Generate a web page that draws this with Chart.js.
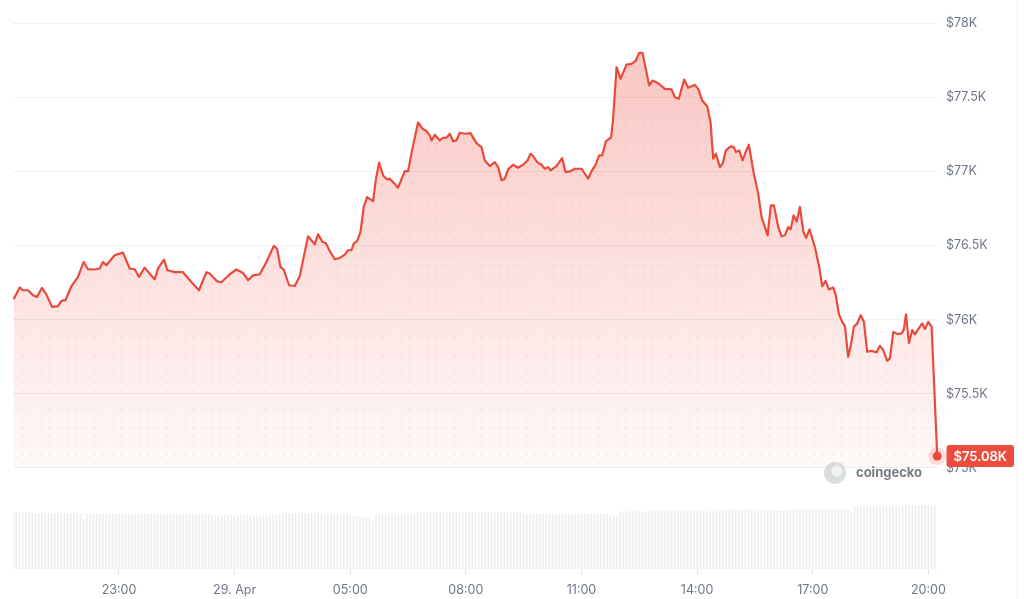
<!DOCTYPE html>
<html><head><meta charset="utf-8">
<script src="https://cdn.jsdelivr.net/npm/chart.js@4.4.1/dist/chart.umd.min.js"></script>
<style>html,body{margin:0;padding:0;background:#fff;overflow:hidden}
#wrap{position:relative;width:1024px;height:599px}</style>
</head><body><div id="wrap"><canvas id="c" width="1024" height="599"></canvas></div>
<script>
// hours on the 28 Apr clock (24 = 00:00 on 29 Apr)
const priceTimes = [20.267,20.423,20.508,20.638,20.768,20.872,21.002,21.116,21.261,21.417,21.505,21.609,21.765,21.936,22.084,22.195,22.369,22.499,22.585,22.673,22.888,23.104,23.278,23.407,23.519,23.667,23.779,23.927,24.012,24.168,24.256,24.446,24.661,24.879,25.076,25.268,25.354,25.543,25.658,25.873,26.047,26.218,26.348,26.478,26.652,26.826,27.015,27.101,27.189,27.275,27.412,27.560,27.690,27.905,28.079,28.165,28.279,28.365,28.468,28.598,28.728,28.858,28.943,29.032,29.091,29.177,29.265,29.351,29.437,29.592,29.662,29.748,29.852,29.956,30.026,30.137,30.241,30.415,30.501,30.615,30.760,30.874,30.960,31.064,31.108,31.194,31.323,31.409,31.497,31.583,31.669,31.757,31.842,31.972,32.120,32.276,32.406,32.491,32.621,32.751,32.837,32.925,33.010,33.096,33.226,33.356,33.485,33.600,33.677,33.745,33.849,33.963,34.049,34.134,34.197,34.352,34.498,34.586,34.697,34.827,35.001,35.172,35.261,35.372,35.458,35.536,35.632,35.769,35.821,35.910,36.013,36.169,36.299,36.410,36.496,36.584,36.756,36.844,36.989,37.163,37.337,37.423,37.526,37.664,37.768,37.942,38.027,38.131,38.261,38.349,38.417,38.487,38.591,38.661,38.746,38.868,38.954,39.006,39.091,39.180,39.258,39.343,39.455,39.585,39.673,39.829,39.914,39.992,40.104,40.192,40.278,40.363,40.426,40.503,40.581,40.667,40.758,40.830,40.916,41.056,41.168,41.246,41.334,41.420,41.531,41.593,41.679,41.765,41.835,41.920,41.990,42.068,42.154,42.243,42.328,42.413,42.528,42.658,42.743,42.829,42.933,43.003,43.089,43.192,43.306,43.366,43.418,43.496,43.581,43.652,43.737,43.841,43.911,43.997,44.085,44.230];
const priceValues = [76139,76218,76199,76199,76166,76154,76215,76170,76087,76092,76127,76132,76226,76289,76390,76341,76339,76346,76390,76368,76435,76453,76346,76341,76289,76352,76316,76273,76346,76406,76334,76321,76321,76255,76199,76321,76312,76260,76253,76307,76339,76316,76267,76300,76307,76390,76498,76480,76356,76339,76233,76228,76294,76563,76509,76577,76525,76518,76464,76408,76417,76440,76469,76469,76514,76530,76592,76761,76828,76801,76941,77060,76974,76947,76952,76922,76891,77003,77003,77158,77331,77289,77277,77244,77210,77248,77210,77228,77228,77255,77205,77210,77262,77255,77259,77192,77165,77075,77037,77064,77030,76941,76952,77015,77046,77026,77046,77075,77120,77104,77064,77046,77019,77030,77008,77037,77091,76996,77001,77019,77019,76952,77003,77048,77109,77109,77203,77230,77358,77704,77626,77722,77727,77749,77801,77801,77581,77614,77596,77558,77554,77502,77491,77621,77565,77585,77558,77480,77441,77333,77087,77120,77030,77053,77143,77170,77165,77131,77143,77075,77131,77181,77008,76851,76693,76570,76772,76772,76626,76563,76570,76626,76610,76705,76662,76761,76592,76553,76610,76491,76356,76226,76262,76204,76218,76172,76038,75986,75957,75750,75829,75952,75975,76031,75986,75784,75790,75780,75824,75795,75723,75739,75918,75903,75908,75935,76036,75844,75930,75901,75937,75975,75937,75986,75952,75080];
// 24h volume (billions USD), one bar every 5 minutes from 20:15
const volumeStart = 20.25;
const volumeStepHours = 5 / 60;
const volumeValues = [
33.4,33.5,33.4,33.3,33.5,33.4,33.3,32.6,32.5,32.5,32.4,32.6,
32.5,32.4,32.6,32.5,32.5,32.4,32.5,32.6,32.4,32.5,29.4,32.4,
32.4,32.3,32.4,32.5,32.4,32.4,32.3,32.4,32.5,32.4,32.3,32.4,
32.4,32.3,32.4,32.4,32.5,32.4,32.3,32.8,32.9,32.8,32.2,32.2,
32.2,32.1,32.2,32.3,32.2,32.2,32.1,32.2,32.3,32.2,32.2,32.1,
32.2,32.2,32.1,31.6,31.6,31.5,31.6,31.7,31.6,31.6,31.5,31.6,
31.6,31.6,31.7,31.6,31.5,31.6,31.6,31.7,31.6,31.6,31.5,32.5,
32.5,32.6,32.5,32.4,32.5,32.6,32.5,32.5,32.4,32.5,32.6,32.5,
32.2,32.3,32.2,32.2,32.1,32.2,32.3,32.2,32.2,31.2,31.3,31.2,
30.4,30.5,30.4,30.4,28.0,31.6,31.6,31.7,31.6,31.6,31.5,31.6,
31.6,31.7,31.6,31.6,32.5,32.6,33.4,33.5,33.4,33.4,33.3,33.4,
33.4,33.5,33.4,33.3,33.4,33.5,33.4,33.4,33.3,33.4,33.5,33.4,
33.4,33.3,33.4,33.5,33.4,33.4,33.3,33.4,33.4,33.5,33.4,33.3,
33.4,33.4,33.3,33.4,32.5,32.6,32.5,32.4,32.5,32.5,32.4,32.4,
32.4,32.3,32.4,32.5,32.4,32.4,32.3,32.4,32.4,32.5,32.4,32.4,
32.4,32.3,32.4,32.4,32.5,32.4,31.6,31.6,31.0,34.0,34.1,34.0,
34.0,34.0,34.1,34.0,33.9,34.0,34.0,34.4,34.5,34.4,34.4,34.3,
34.4,34.5,34.4,34.4,34.3,34.4,34.5,34.4,34.4,34.4,34.0,34.0,
34.0,34.1,34.0,34.9,34.9,35.0,34.9,34.8,34.9,34.9,35.0,34.9,
34.9,34.9,34.8,34.8,34.7,34.8,34.8,34.9,34.8,34.8,34.7,34.8,
34.8,34.8,34.9,34.8,34.8,35.5,35.5,35.6,35.5,35.4,35.5,35.5,
35.5,35.6,35.5,35.5,35.4,35.5,35.6,35.5,35.5,34.0,36.7,36.7,
36.7,36.8,36.7,36.7,36.6,36.7,36.8,36.7,36.7,36.8,36.7,36.8,
36.8,37.4,37.4,37.5,37.6,37.6,37.7,37.8,37.8,37.9,38.0,38.1];
const tickHours = [23, 26, 29, 32, 35, 38, 41, 44];
const tickLabels = ['23:00', '29. Apr', '05:00', '08:00', '11:00', '14:00', '17:00', '20:00'];
const priceTicks = [75000, 75500, 76000, 76500, 77000, 77500, 78000];
const priceFloor = 75000;

const RED = '#ea4a3c';
const GREY = '#6f7787';
Chart.defaults.font.family = 'Inter, "Noto Sans", sans-serif';

const priceData = priceTimes.map((t, i) => ({x: t, y: priceValues[i]}));
const volumeData = volumeValues.map((v, i) => ({x: volumeStart + i * volumeStepHours, y: v}));

const pc = document.createElement('canvas'); pc.width = 9; pc.height = 9;
const pctx = pc.getContext('2d');
pctx.fillStyle = 'rgba(236,74,61,0.11)';
pctx.beginPath(); pctx.arc(4.5, 4.5, 1.1, 0, Math.PI * 2); pctx.fill();
const canvas = document.getElementById('c');
const dotPattern = canvas.getContext('2d').createPattern(pc, 'repeat');

function fillGradient(ctx) {
  const chart = ctx.chart;
  if (!chart.chartArea) return 'rgba(236,74,61,0.12)';
  const y = chart.scales.y;
  const g = chart.ctx.createLinearGradient(0, y.getPixelForValue(77800), 0, y.getPixelForValue(priceFloor));
  g.addColorStop(0, 'rgba(236,74,61,0.31)');
  g.addColorStop(1, 'rgba(236,74,61,0.03)');
  return g;
}

const overlay = {
  id: 'overlay',
  afterDraw(chart) {
    const c = chart.ctx;
    const meta = chart.getDatasetMeta(0);
    const last = meta.data[meta.data.length - 1];
    const area = chart.chartArea;
    c.save();
    // end point with halo
    c.fillStyle = 'rgba(236,74,61,0.18)';
    c.beginPath(); c.arc(last.x, last.y, 9, 0, Math.PI * 2); c.fill();
    c.fillStyle = RED;
    c.beginPath(); c.arc(last.x, last.y, 4.5, 0, Math.PI * 2); c.fill();
    // watermark
    c.fillStyle = 'rgba(150,160,150,0.35)';
    c.beginPath(); c.arc(835, 473, 11, 0, Math.PI * 2); c.fill();
    c.fillStyle = 'rgba(255,255,255,0.6)';
    c.beginPath(); c.arc(837, 471, 5.5, 0, Math.PI * 2); c.fill();
    c.fillStyle = 'rgba(105,110,118,0.9)';
    c.font = 'bold 13px Inter, "Noto Sans", sans-serif';
    c.textBaseline = 'middle'; c.textAlign = 'left';
    c.fillText('coingecko', 856, 473);
    // last price label
    const v = priceValues[priceValues.length - 1];
    const txt = '$' + (v / 1000).toFixed(2) + 'K';
    c.font = '600 13px Inter, "Noto Sans", sans-serif';
    const w = c.measureText(txt).width + 14;
    const x0 = area.right + 8.5, h = 22, y0 = last.y - h / 2;
    c.fillStyle = '#eb4c3e';
    c.beginPath(); c.roundRect(x0, y0, w, h, 3); c.fill();
    c.fillStyle = '#fff';
    c.fillText(txt, x0 + 7, last.y + 0.5);
    // panel edge
    c.fillStyle = '#f1f1f1';
    c.fillRect(1017, 0, 1, 599);
    c.restore();
  }
};

new Chart(canvas, {
  type: 'line',
  data: {
    datasets: [
      {type: 'line', data: priceData, yAxisID: 'y', borderColor: RED, borderWidth: 2.2, tension: 0,
       borderJoinStyle: 'round', pointRadius: 0, fill: {value: priceFloor}, backgroundColor: fillGradient, order: 0},
      {type: 'line', data: priceData, yAxisID: 'y', borderWidth: 0, borderColor: 'rgba(0,0,0,0)', pointRadius: 0,
       fill: {value: priceFloor}, backgroundColor: dotPattern, order: 1},
      {type: 'bar', data: volumeData, yAxisID: 'yv', backgroundColor: '#eceff1', barPercentage: 0.55,
       categoryPercentage: 1, order: 2}
    ]
  },
  options: {
    responsive: false, animation: false, devicePixelRatio: 1,
    layout: {padding: {left: 13, right: 0, top: 0, bottom: 0}},
    plugins: {legend: {display: false}, tooltip: {enabled: false}},
    scales: {
      x: {type: 'linear', min: 20.25, max: 44.25, offset: false,
        afterBuildTicks: s => { s.ticks = tickHours.map(v => ({value: v})); },
        afterFit: s => { s.height = 31; },
        grid: {display: true, drawOnChartArea: false, drawTicks: true, tickLength: 7, tickColor: '#e3e6ea', offset: false},
        border: {display: true, color: '#f1f3f5'},
        ticks: {autoSkip: false, maxRotation: 0, padding: 8, color: GREY, font: {size: 12.5},
          callback: v => { const i = tickHours.indexOf(v); return i >= 0 ? tickLabels[i] : ''; }}
      },
      y: {type: 'linear', position: 'right', min: 74325, max: 78053,
        afterBuildTicks: s => { s.ticks = priceTicks.map(v => ({value: v})); },
        afterFit: s => { s.width = 86; },
        grid: {drawTicks: false, color: '#eef0f3'},
        border: {display: false},
        ticks: {padding: 8, color: GREY, font: {size: 12.5},
          callback: v => '$' + (v / 1000) + 'K'}
      },
      yv: {type: 'linear', display: false, min: 0, max: 331.5}
    }
  },
  plugins: [overlay]
});
</script></body></html>
